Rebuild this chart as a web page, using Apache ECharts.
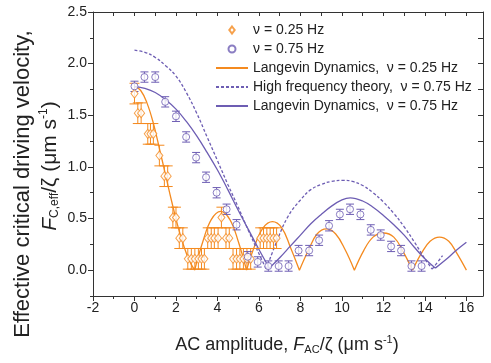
<!DOCTYPE html>
<html>
<head>
<meta charset="utf-8">
<script src="https://cdn.jsdelivr.net/npm/echarts@6/dist/echarts.min.js"></script>
<style>
    html,body{margin:0;padding:0;background:#fff;}
    #chart{width:491px;height:363px;}
</style>
</head>
<body>
<div id="chart"></div>
<script>
// tick labels
var xTicks = [-2, 0, 2, 4, 6, 8, 10, 12, 14, 16];
var xMinorTicks = [-1, 1, 3, 5, 7, 9, 11, 13, 15];
var xAllTicks = [-2, -1, 0, 1, 2, 3, 4, 5, 6, 7, 8, 9, 10, 11, 12, 13, 14, 15, 16];
var yTicks = [0, 0.5, 1.0, 1.5, 2.0, 2.5];
var yMinorTicks = [-0.25, 0.25, 0.75, 1.25, 1.75, 2.25];

// measured points, v = 0.25 Hz (diamonds)
var lowX = [0, 0.16, 0.32, 0.64, 0.77, 0.91, 1.2, 1.44, 1.6, 1.85, 2.0, 2.16, 2.33, 2.57, 2.74, 2.91, 3.08, 3.23, 3.37,
            3.53, 3.7, 3.85, 4.03, 4.19, 4.41, 4.57, 4.75, 4.92, 5.08, 5.25, 5.42, 5.6, 6.06, 6.22, 6.38, 6.54, 6.7, 6.85];
var lowY = [1.71, 1.52, 1.52, 1.32, 1.32, 1.32, 1.11, 0.91, 0.91, 0.51, 0.51, 0.31, 0.31, 0.11, 0.11, 0.11, 0.11, 0.11, 0.11,
            0.31, 0.31, 0.31, 0.31, 0.51, 0.31, 0.31, 0.11, 0.11, 0.11, 0.11, 0.11, 0.11, 0.31, 0.31, 0.31, 0.31, 0.31, 0.31];
var lowErr = 0.1;

// measured points, v = 0.75 Hz (circles)
var highX = [0, 0.48, 1.0, 1.48, 2.0, 2.49, 2.97, 3.45, 3.96, 4.44, 4.92, 5.46, 5.94, 6.45, 6.95, 7.43, 7.91,
             8.42, 8.9, 9.38, 9.9, 10.39, 10.89, 11.39, 11.87, 12.37, 12.85, 13.35, 13.84];
var highY = [1.78, 1.87, 1.87, 1.63, 1.49, 1.29, 1.09, 0.9, 0.75, 0.59, 0.44, 0.13, 0.08, 0.04, 0.04, 0.04, 0.19,
             0.19, 0.29, 0.43, 0.54, 0.59, 0.54, 0.39, 0.34, 0.23, 0.19, 0.04, 0.04];
var highErr = 0.05;

// Langevin dynamics, 0.25 Hz (cusps at the zeros)
var ld25X = [0, 0.3, 0.6, 0.9, 1.2, 1.5, 1.8, 2.1, 2.4, 2.65, 2.9, 3.3, 3.7, 4.15, 4.6, 5.0, 5.4,
             5.8, 6.2, 6.65, 7.1, 7.5, 7.95, 8.4, 8.8, 9.25, 9.7, 10.15, 10.6,
             11.05, 11.5, 12.0, 12.5, 12.95, 13.4, 13.85, 14.25, 14.7, 15.15, 15.55, 16.0];
var ld25Y = [1.78, 1.74, 1.62, 1.43, 1.18, 0.92, 0.66, 0.42, 0.22, 0.09, 0, 0.28, 0.49, 0.57, 0.49, 0.28, 0,
             0.24, 0.41, 0.47, 0.41, 0.23, 0, 0.2, 0.35, 0.4, 0.35, 0.2, 0,
             0.19, 0.32, 0.36, 0.32, 0.18, 0, 0.17, 0.28, 0.32, 0.28, 0.16, 0];
var ld25Cusps = [2.9, 5.4, 7.95, 10.6, 13.4];

// high frequency theory, 0.75 Hz
var hf75X = [0, 0.5, 1.0, 1.5, 2.0, 2.5, 3.0, 3.5, 4.0, 4.5, 5.0, 5.5, 6.0, 6.35,
             6.8, 7.4, 8.0, 8.5, 9.0, 9.5, 10.05, 10.5, 11.0, 11.5, 12.0, 12.5, 13.0, 13.5, 14.0, 14.35, 14.85];
var hf75Y = [2.13, 2.11, 2.06, 1.98, 1.88, 1.72, 1.52, 1.29, 1.06, 0.83, 0.61, 0.38, 0.16, 0.01,
             0.25, 0.52, 0.68, 0.78, 0.83, 0.86, 0.87, 0.86, 0.82, 0.75, 0.66, 0.55, 0.42, 0.27, 0.11, 0.01, 0.14];
var hf75Cusps = [6.35, 14.35];

// Langevin dynamics, 0.75 Hz
var ld75X = [0, 0.5, 1.0, 1.5, 2.0, 2.5, 3.0, 3.5, 4.0, 4.5, 5.0, 5.5, 6.0, 6.5,
             7.0, 7.5, 8.0, 8.5, 9.0, 9.5, 10.0, 10.4, 11.0, 11.5, 12.0, 12.5, 13.0, 13.5, 14.0, 14.5, 15.0, 15.5, 16.0];
var ld75Y = [1.78, 1.76, 1.72, 1.65, 1.56, 1.44, 1.3, 1.14, 0.97, 0.78, 0.58, 0.39, 0.2, 0.02,
             0.12, 0.23, 0.34, 0.45, 0.54, 0.62, 0.68, 0.7, 0.67, 0.61, 0.53, 0.44, 0.34, 0.22, 0.11, 0.02, 0.1, 0.19, 0.27];
var ld75Cusps = [6.5, 14.5];

var ORANGE = '#f48a1f';
var PURPLE = '#6d5db3';
var FONT = '"Liberation Sans", Arial, sans-serif';
var DIAMOND = 'path://M5,0 L10,6.5 L5,13 L0,6.5 Z';

function curveData(xs, ys, cusps) {
    // break the line at the cusps so the smoothing keeps them sharp
    var out = [];
    for (var i = 0; i < xs.length; i++) {
        out.push([xs[i], ys[i]]);
        if (cusps.indexOf(xs[i]) >= 0) {
            out.push('-');
            out.push([xs[i], ys[i]]);
        }
    }
    return out;
}
function pointData(xs, ys) {
    return xs.map(function (x, i) { return [x, ys[i]]; });
}
function errData(xs, ys, e) {
    return xs.map(function (x, i) { return [x, ys[i], e]; });
}
function errRender(color, cap) {
    return function (params, api) {
        var x = api.value(0), y = api.value(1), e = api.value(2);
        var a = api.coord([x, y + e]);
        var b = api.coord([x, y - e]);
        var st = {stroke: color, lineWidth: 1};
        return {
            type: 'group',
            children: [
                {type: 'line', shape: {x1: a[0], y1: a[1], x2: b[0], y2: b[1]}, style: st},
                {type: 'line', shape: {x1: a[0] - cap, y1: a[1], x2: a[0] + cap, y2: a[1]}, style: st},
                {type: 'line', shape: {x1: b[0] - cap, y1: b[1], x2: b[0] + cap, y2: b[1]}, style: st}
            ]
        };
    };
}

var chart = echarts.init(document.getElementById('chart'));

var axisLine = {show: true, onZero: false, lineStyle: {color: '#333', width: 1}};
var noLine = {show: false, onZero: false};

var option = {
    animation: false,
    textStyle: {fontFamily: FONT},
    grid: [
        {left: 93, right: 8, top: 12, bottom: 67},
        {left: 93, right: 8, top: 12, bottom: 67}
    ],
    xAxis: [
        {
            type: 'value', gridIndex: 0, position: 'bottom', min: -2, max: 16.8, interval: 1,
            axisLine: axisLine,
            axisTick: {show: true, length: 5, customValues: xTicks, lineStyle: {color: '#333'}},
            axisLabel: {customValues: xTicks, fontSize: 14, color: '#222', margin: 5},
            splitLine: {show: false}
        },
        {
            type: 'value', gridIndex: 0, position: 'top', min: -2, max: 16.8, interval: 1,
            axisLine: axisLine,
            axisTick: {show: true, inside: true, length: 4, customValues: xAllTicks, lineStyle: {color: '#333'}},
            axisLabel: {show: false},
            splitLine: {show: false}
        },
        {
            type: 'value', gridIndex: 1, position: 'bottom', min: -2, max: 16.8, interval: 1,
            axisLine: noLine,
            axisTick: {show: true, length: 3, customValues: xMinorTicks, lineStyle: {color: '#333'}},
            axisLabel: {show: false},
            splitLine: {show: false}
        }
    ],
    yAxis: [
        {
            type: 'value', gridIndex: 0, position: 'left', min: -0.25, max: 2.5, interval: 0.25,
            axisLine: axisLine,
            axisTick: {show: true, length: 5, customValues: yTicks, lineStyle: {color: '#333'}},
            axisLabel: {
                customValues: yTicks, fontSize: 14, color: '#222', margin: 6,
                formatter: function (v) { return v.toFixed(1); }
            },
            splitLine: {show: false}
        },
        {
            type: 'value', gridIndex: 0, position: 'right', min: -0.25, max: 2.5, interval: 0.25,
            axisLine: axisLine,
            axisTick: {show: true, inside: true, length: 5, lineStyle: {color: '#333'}},
            axisLabel: {show: false},
            splitLine: {show: false}
        },
        {
            type: 'value', gridIndex: 1, position: 'left', min: -0.25, max: 2.5, interval: 0.25,
            axisLine: noLine,
            axisTick: {show: true, length: 3, customValues: yMinorTicks, lineStyle: {color: '#333'}},
            axisLabel: {show: false},
            splitLine: {show: false}
        }
    ],
    legend: {
        orient: 'vertical',
        left: 210,
        top: 18,
        itemWidth: 32,
        itemHeight: 7,
        itemGap: 5,
        selectedMode: false,
        textStyle: {fontSize: 14, color: '#222', fontFamily: FONT},
        data: [
            {name: 'ν = 0.25 Hz', icon: DIAMOND},
            {name: 'ν = 0.75 Hz', icon: 'circle'},
            {name: 'Langevin Dynamics,  ν = 0.25 Hz', itemStyle: {opacity: 0}},
            {name: 'High frequency theory,  ν = 0.75 Hz', itemStyle: {opacity: 0}},
            {name: 'Langevin Dynamics,  ν = 0.75 Hz', itemStyle: {opacity: 0}}
        ]
    },
    series: [
        {
            name: 'Langevin Dynamics,  ν = 0.25 Hz',
            type: 'line', smooth: 0.4, symbol: 'none', color: ORANGE, z: 2,
            lineStyle: {color: ORANGE, width: 1.3},
            data: curveData(ld25X, ld25Y, ld25Cusps)
        },
        {
            name: 'High frequency theory,  ν = 0.75 Hz',
            type: 'line', smooth: 0.4, symbol: 'none', color: PURPLE, z: 2,
            lineStyle: {color: PURPLE, width: 1.3, type: [3, 2]},
            data: curveData(hf75X, hf75Y, hf75Cusps)
        },
        {
            name: 'Langevin Dynamics,  ν = 0.75 Hz',
            type: 'line', smooth: 0.4, symbol: 'none', color: PURPLE, z: 2,
            lineStyle: {color: PURPLE, width: 1.3},
            data: curveData(ld75X, ld75Y, ld75Cusps)
        },
        {
            type: 'custom', z: 3, silent: true,
            renderItem: errRender(ORANGE, 5),
            data: errData(lowX, lowY, lowErr)
        },
        {
            type: 'custom', z: 3, silent: true,
            renderItem: errRender(PURPLE, 4),
            data: errData(highX, highY, highErr)
        },
        {
            name: 'ν = 0.25 Hz',
            type: 'scatter', symbol: DIAMOND, symbolSize: [7, 9], z: 4,
            itemStyle: {color: '#fff', borderColor: ORANGE, borderWidth: 1},
            data: pointData(lowX, lowY)
        },
        {
            name: 'ν = 0.75 Hz',
            type: 'scatter', symbol: 'circle', symbolSize: 7, z: 4,
            itemStyle: {color: '#fff', borderColor: PURPLE, borderWidth: 1},
            data: pointData(highX, highY)
        }
    ],
    graphic: [
        {
            type: 'text', x: 23, y: 184, rotation: Math.PI / 2,
            style: {
                text: 'Effective critical driving velocity,',
                font: '22px ' + FONT, fill: '#222',
                align: 'center', verticalAlign: 'middle'
            }
        },
        {
            type: 'text', x: 50, y: 166, rotation: Math.PI / 2,
            style: {
                text: '{it|F}{sub|C,eff}/ζ (μm s{sup|-1})',
                font: '21px ' + FONT, fill: '#222',
                align: 'center', verticalAlign: 'middle',
                rich: {
                    it: {fontSize: 21, fontStyle: 'italic', fontFamily: FONT},
                    sub: {fontSize: 12, padding: [10, 0, 0, 0], fontFamily: FONT},
                    sup: {fontSize: 12, padding: [0, 0, 12, 0], fontFamily: FONT}
                }
            }
        },
        {
            type: 'text', x: 287, y: 345,
            style: {
                text: 'AC amplitude, {it|F}{sub|AC}/ζ (μm s{sup|-1})',
                font: '18px ' + FONT, fill: '#222',
                align: 'center', verticalAlign: 'middle',
                rich: {
                    it: {fontSize: 18, fontStyle: 'italic', fontFamily: FONT},
                    sub: {fontSize: 11, padding: [9, 0, 0, 0], fontFamily: FONT},
                    sup: {fontSize: 11, padding: [0, 0, 10, 0], fontFamily: FONT}
                }
            }
        }
    ]
};

chart.setOption(option);
</script>
</body>
</html>
